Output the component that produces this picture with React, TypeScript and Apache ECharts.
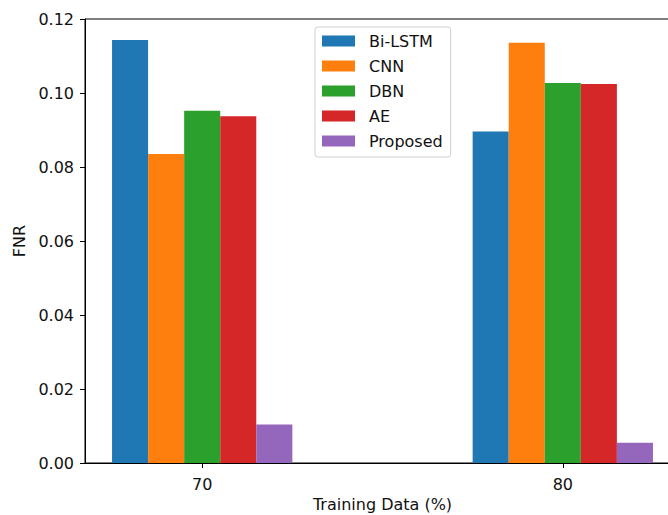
import React, { useEffect, useRef } from "react";
import * as echarts from "echarts";

const categories = ["70", "80"];
const seriesNames = ["Bi-LSTM", "CNN", "DBN", "AE", "Proposed"];
const biLstm = [0.1143, 0.0896];
const cnn = [0.0835, 0.1136];
const dbn = [0.0952, 0.1027];
const ae = [0.0937, 0.1024];
const proposed = [0.0104, 0.0055];
const yTicks = [0, 0.02, 0.04, 0.06, 0.08, 0.1, 0.12];
const colors = ["#1f77b4", "#ff7f0e", "#2ca02c", "#d62728", "#9467bd"];

const FONT = "DejaVu Sans";
const FS = 16;
const BAR_W = 0.1;

export default function App() {
  const ref = useRef<HTMLDivElement>(null);
  useEffect(() => {
    if (!ref.current) return;
    const chart = echarts.init(ref.current, null, { renderer: "svg" });
    const values = [biLstm, cnn, dbn, ae, proposed];
    const series = values.map((vals, si) => ({
      name: seriesNames[si],
      type: "custom",
      itemStyle: { color: colors[si] },
      data: vals.map((v, ci) => [ci, v]),
      encode: { x: 0, y: 1 },
      renderItem: (params: any, api: any) => {
        const ci = api.value(0);
        const v = api.value(1);
        const center = ci + (si - 2) * BAR_W;
        const p0 = api.coord([center - BAR_W / 2, v]);
        const p1 = api.coord([center + BAR_W / 2, 0]);
        return {
          type: "rect",
          shape: { x: p0[0], y: p0[1], width: p1[0] - p0[0], height: p1[1] - p0[1] },
          style: { fill: colors[si] },
        };
      },
    }));
    chart.setOption({
      animation: false,
      backgroundColor: "#ffffff",
      textStyle: { fontFamily: FONT },
      grid: {
        left: 85,
        top: 19,
        right: -12,
        bottom: 52,
        outerBoundsMode: "none",
        containLabel: false,
        show: true,
        borderColor: "#000",
        borderWidth: 1,
        backgroundColor: "transparent",
      },
      legend: {
        orient: "vertical",
        left: 315,
        top: 27,
        icon: "rect",
        itemWidth: 33,
        itemHeight: 11,
        itemGap: 7,
        padding: [5, 8, 7, 7],
        borderColor: "#d0d0d0",
        borderWidth: 1,
        borderRadius: 3,
        backgroundColor: "rgba(255,255,255,0.8)",
        data: seriesNames.map((n) => ({ name: n, icon: "rect" })),
        textStyle: {
          fontFamily: FONT,
          fontSize: FS,
          color: "#111",
          lineHeight: 18,
          padding: [0, 0, 0, 9],
        },
      },
      xAxis: {
        type: "value",
        min: -0.325,
        max: 1.325,
        name: "Training Data (%)",
        nameLocation: "middle",
        nameGap: 33,
        nameTextStyle: { fontFamily: FONT, fontSize: FS, color: "#111" },
        axisLine: { show: true, onZero: false, lineStyle: { color: "#000", width: 1 } },
        axisTick: { show: true, length: 5, lineStyle: { color: "#000" }, customValues: [0, 1] },
        axisLabel: {
          fontFamily: FONT,
          fontSize: FS,
          color: "#111",
          margin: 13,
          customValues: [0, 1],
          formatter: (v: number) => categories[Math.round(v)] ?? "",
        },
        splitLine: { show: false },
      },
      yAxis: {
        type: "value",
        min: 0,
        max: 0.12,
        interval: 0.02,
        name: "FNR",
        nameLocation: "middle",
        nameGap: 56,
        nameTextStyle: { fontFamily: FONT, fontSize: FS, color: "#111" },
        axisLine: { show: true, onZero: false, lineStyle: { color: "#000", width: 1 } },
        axisTick: { show: true, length: 5, lineStyle: { color: "#000" } },
        axisLabel: {
          fontFamily: FONT,
          fontSize: FS,
          color: "#111",
          margin: 11,
          formatter: (v: number) => {
            const t = yTicks.find((x) => Math.abs(x - v) < 1e-9);
            return (t ?? v).toFixed(2);
          },
        },
        splitLine: { show: false },
      },
      series,
    });
    return () => chart.dispose();
  }, []);
  return <div ref={ref} style={{ width: 668, height: 515, position: "absolute", left: 0, top: 0 }} />;
}
